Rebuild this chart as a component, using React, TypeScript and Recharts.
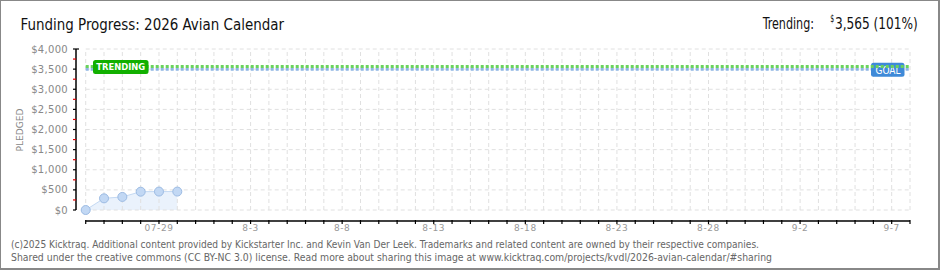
import React from 'react';
import { ComposedChart, Area, XAxis, YAxis, ReferenceLine } from 'recharts';

// ---- data ----
const days = [0, 1, 2, 3, 4, 5];
const pledged = [0, 290, 325, 455, 458, 458];
const trendingValue = 3565;
const goalValue = 3500;
const yTicks = [0, 500, 1000, 1500, 2000, 2500, 3000, 3500, 4000];
const xTickDays = Array.from({ length: 46 }, (_, i) => i);
const labeledDays = [4, 9, 14, 19, 24, 29, 34, 39, 44];
const labelTexts = ['07-29', '8-3', '8-8', '8-13', '8-18', '8-23', '8-28', '9-2', '9-7'];

const data = days.map((d, i) => ({ day: d, pledged: pledged[i] }));

const W = 940;
const H = 270;
const X_MIN = -0.53;
const X_MAX = 45;
const Y_MIN = -273;
const Y_MAX = 4000;
const PLOT_TOP = 49;
const PLOT_BOTTOM = 221;
const PX_PER_DOLLAR = (PLOT_BOTTOM - PLOT_TOP) / (Y_MAX - Y_MIN);

const FONT = '"DejaVu Sans", sans-serif';
const GRID = '#e0e0e0';

const YTick = (props: any) => {
  const { x, y, payload } = props;
  const v = payload.value as number;
  const minorY = y - 250 * PX_PER_DOLLAR;
  return (
    <g>
      <line x1={x - 3} x2={v === 4000 ? x + 3 : x} y1={y} y2={y} stroke="#000" strokeWidth={1.2} />
      {v < 4000 && <line x1={x - 3} x2={x} y1={minorY} y2={minorY} stroke="#e00000" strokeWidth={1.2} />}
      <text x={x - 8} y={y + 3.5} textAnchor="end" fontFamily={FONT} fontSize={10} fill="#888" letterSpacing={0.3}>
        {'$' + v.toLocaleString('en-US')}
      </text>
    </g>
  );
};

const XTick = (props: any) => {
  const { x, y, payload } = props;
  const d = payload.value as number;
  const idx = labeledDays.indexOf(d);
  return (
    <g>
      <line x1={x} x2={x} y1={y - 1} y2={y + 3} stroke="#000" strokeWidth={1.2} />
      {idx >= 0 && (
        <text x={x} y={y + 10} textAnchor="middle" fontFamily={FONT} fontSize={9} fill="#999" letterSpacing={0.6}>
          {labelTexts[idx]}
        </text>
      )}
    </g>
  );
};

const TrendingLabel = (props: any) => {
  const vb = props.viewBox || {};
  const x = vb.x ?? 0;
  const y = vb.y ?? 0;
  return (
    <g>
      <rect x={x + 7.3} y={y - 6.5} width={55.5} height={14} rx={2.5} fill="#12b000" />
      <text x={x + 10.5} y={y + 3.3} fontFamily={FONT} fontSize={9.5} fontWeight="bold" fill="#fff" textLength={49} lengthAdjust="spacingAndGlyphs">
        TRENDING
      </text>
    </g>
  );
};

const GoalLabel = (props: any) => {
  const vb = props.viewBox || {};
  const x = (vb.x ?? 0) + (vb.width ?? 0);
  const y = vb.y ?? 0;
  return (
    <g>
      <rect x={x - 39} y={y - 6.5} width={33.5} height={14} rx={2.5} fill="#3f8ad8" />
      <text x={x - 34.5} y={y + 4.5} fontFamily={FONT} fontSize={11} fill="#fff" textLength={25} lengthAdjust="spacingAndGlyphs">
        GOAL
      </text>
    </g>
  );
};

export default function App() {
  return (
    <div style={{ position: 'relative', width: W, height: H, background: '#fff', overflow: 'hidden' }}>
      <style>{'body{margin:0}'}</style>
      <div style={{ position: 'absolute', left: 0, top: 0 }}>
        <ComposedChart
          width={W}
          height={H}
          data={data}
          margin={{ top: PLOT_TOP, right: W - 910, bottom: 19, left: 16 }}
        >
          <XAxis
            type="number"
            dataKey="day"
            domain={[X_MIN, X_MAX]}
            ticks={xTickDays}
            interval={0}
            axisLine={false}
            tickLine={false}
            tickSize={0}
            tickMargin={0}
            height={30}
            tick={<XTick />}
            allowDataOverflow
          />
          <YAxis
            type="number"
            domain={[Y_MIN, Y_MAX]}
            ticks={yTicks}
            interval={0}
            axisLine={false}
            tickLine={false}
            tickSize={0}
            tickMargin={0}
            width={60}
            tick={<YTick />}
            allowDataOverflow
          />
          {yTicks.map((v) => (
            <ReferenceLine
              key={'h' + v}
              segment={[{ x: 0, y: v }, { x: X_MAX, y: v }]}
              stroke={GRID}
              strokeDasharray="4 3"
              ifOverflow="visible"
            />
          ))}
          {xTickDays.map((d) => (
            <ReferenceLine
              key={'v' + d}
              segment={[{ x: d, y: 0 }, { x: d, y: Y_MAX }]}
              stroke={GRID}
              strokeDasharray="4 3"
              ifOverflow="visible"
            />
          ))}
          <Area
            type="linear"
            dataKey="pledged"
            baseValue={0}
            stroke="#c4d9f3"
            strokeWidth={1}
            fill="#eaf2fc"
            fillOpacity={1}
            dot={{ r: 4.5, fill: '#c2d8f4', stroke: '#9cbbe3', strokeWidth: 1 }}
            activeDot={false}
            isAnimationActive={false}
          />
          <ReferenceLine
            segment={[{ x: X_MIN, y: 0 }, { x: X_MIN, y: Y_MAX }]}
            stroke="#000"
            strokeWidth={1.5}
            ifOverflow="visible"
          />
          <ReferenceLine
            segment={[{ x: 0, y: Y_MIN }, { x: X_MAX, y: Y_MIN }]}
            stroke="#000"
            strokeWidth={1.5}
            ifOverflow="visible"
          />
          <ReferenceLine
            segment={[{ x: 0, y: goalValue }, { x: X_MAX, y: goalValue }]}
            stroke="#8fb5e3"
            strokeWidth={3}
            strokeDasharray="3 2"
            ifOverflow="visible"
            label={<GoalLabel />}
          />
          <ReferenceLine
            segment={[{ x: 0, y: trendingValue }, { x: X_MAX, y: trendingValue }]}
            stroke="#6ad35c"
            strokeWidth={3}
            strokeDasharray="3 2"
            ifOverflow="visible"
            label={<TrendingLabel />}
          />
        </ComposedChart>
      </div>
      <svg width={W} height={H} style={{ position: 'absolute', left: 0, top: 0, pointerEvents: 'none' }}>
        <text x={20.5} y={30} fontFamily='"DejaVu Sans Condensed", "DejaVu Sans", sans-serif' fontSize={16.5} fill="#111" textLength={263.5} lengthAdjust="spacingAndGlyphs">
          Funding Progress: 2026 Avian Calendar
        </text>
        <text x={762.7} y={28.5} fontFamily='"DejaVu Sans Condensed", "DejaVu Sans", sans-serif' fontSize={16.5} fill="#111" textLength={51.3} lengthAdjust="spacingAndGlyphs">
          Trending:
        </text>
        <text x={830.3} y={22} fontFamily='"DejaVu Sans Condensed", "DejaVu Sans", sans-serif' fontSize={10} fill="#111" textLength={4} lengthAdjust="spacingAndGlyphs">
          $
        </text>
        <text x={835} y={28.5} fontFamily='"DejaVu Sans Condensed", "DejaVu Sans", sans-serif' fontSize={16.5} fill="#111" textLength={82.7} lengthAdjust="spacingAndGlyphs">
          3,565 (101%)
        </text>
        <text
          x={0}
          y={0}
          transform="translate(23,130) rotate(-90)"
          textAnchor="middle"
          fontFamily={FONT}
          fontSize={9}
          fill="#888"
          textLength={43}
          lengthAdjust="spacingAndGlyphs"
        >
          PLEDGED
        </text>
        <text x={11} y={248} fontFamily={FONT} fontSize={10} fill="#666" textLength={748} lengthAdjust="spacingAndGlyphs">
          (c)2025 Kicktraq. Additional content provided by Kickstarter Inc. and Kevin Van Der Leek. Trademarks and related content are owned by their respective companies.
        </text>
        <text x={11} y={260.5} fontFamily={FONT} fontSize={10} fill="#666" textLength={761} lengthAdjust="spacingAndGlyphs">
          Shared under the creative commons (CC BY-NC 3.0) license. Read more about sharing this image at www.kicktraq.com/projects/kvdl/2026-avian-calendar/#sharing
        </text>
      </svg>
      <div style={{ position: 'absolute', left: 0, top: 0, width: W, height: H, boxSizing: 'border-box', border: '1px solid #888', borderRightWidth: 2, borderBottomWidth: 2 }} />
    </div>
  );
}
